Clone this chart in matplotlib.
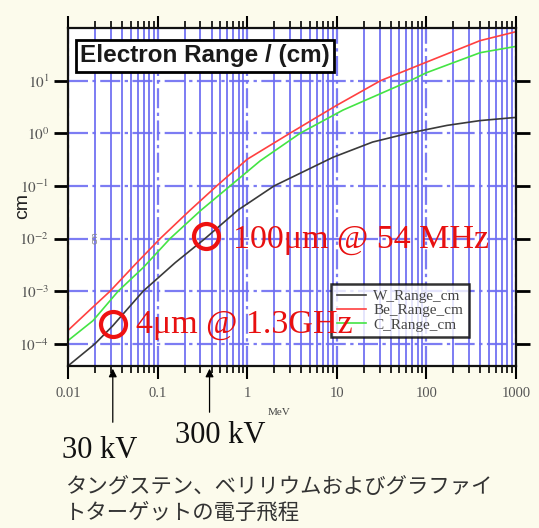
import numpy as np
import matplotlib
matplotlib.use('Agg')
import matplotlib.pyplot as plt
from matplotlib.ticker import LogLocator, FixedLocator, NullFormatter

plt.rcParams['mathtext.fontset'] = 'stix'

# electron range (energy in MeV, range in cm)
w_energy = [0.01, 0.02, 0.0316, 0.069, 0.158, 0.339, 0.794, 2.0, 9.1, 25.1, 63.1, 170, 398, 1000]
w_range = [3.8e-5, 1.0e-4, 2.2e-4, 1.0e-3, 3.5e-3, 1.0e-2, 3.5e-2, 1.0e-1, 0.35, 0.68, 1.0, 1.41, 1.74, 2.0]

be_energy = [0.01, 0.019, 0.0295, 0.056, 0.107, 0.224, 0.457, 1.0, 3.0, 10.0, 30.9, 100, 398, 1000]
be_range = [1.8e-4, 5.0e-4, 1.0e-3, 3.2e-3, 1.0e-2, 3.3e-2, 1.0e-1, 0.32, 1.0, 3.4, 10.0, 22.4, 57.5, 85.0]

c_energy = [0.01, 0.019, 0.0363, 0.069, 0.138, 0.302, 0.646, 1.4, 3.9, 11.7, 66.1, 100, 398, 1000]
c_range = [1.15e-4, 2.75e-4, 1.0e-3, 2.8e-3, 1.0e-2, 3.4e-2, 1.0e-1, 0.3, 1.0, 2.75, 10.0, 14.1, 33.9, 44.7]

x_ticks = [0.01, 0.1, 1, 10, 100, 1000]
x_labels = ['0.01', '0.1', '1', '10', '100', '1000']
y_ticks = [1e-4, 1e-3, 1e-2, 1e-1, 1e0, 1e1]
y_labels = ['$10^{-4}$', '$10^{-3}$', '$10^{-2}$', '$10^{-1}$', '$10^{0}$', '$10^{1}$']

grid_blue = '#6e6ef2'

fig = plt.figure(figsize=(5.39, 5.28), dpi=100)
fig.patch.set_facecolor('#fcfbec')
ax = fig.add_axes([0.1262, 0.307, 0.831, 0.640])
ax.set_facecolor('white')

ax.plot(w_energy, w_range, color='#3a3a3a', lw=1.2, label='W_Range_cm')
ax.plot(be_energy, be_range, color='#ff4040', lw=1.2, label='Be_Range_cm')
ax.plot(c_energy, c_range, color='#44e444', lw=1.2, label='C_Range_cm')

ax.set_xscale('log')
ax.set_yscale('log')
ax.set_xlim(0.01, 1000)
ax.set_ylim(3.8e-5, 100)

ax.set_xticks(x_ticks)
ax.set_xticklabels(x_labels, family='Liberation Serif', fontsize=10.5, color='#555555')
ax.xaxis.set_minor_locator(LogLocator(base=10, subs=np.arange(2, 10)))
ax.xaxis.set_minor_formatter(NullFormatter())
ax.yaxis.set_major_locator(FixedLocator(y_ticks))
ax.set_yticklabels(y_labels, fontsize=11, color='#555555')
ax.yaxis.set_minor_locator(FixedLocator([]))

ax.tick_params(axis='x', which='major', direction='out', length=9, width=1.5, top=True, pad=6)
ax.tick_params(axis='x', which='minor', direction='out', length=5, width=1.2, top=True)
ax.tick_params(axis='y', which='major', direction='out', length=10, width=2, right=True)

ax.grid(True, which='major', axis='both', color=grid_blue, lw=1.6, alpha=0.9,
        linestyle=(0, (9, 2, 1.5, 2)))
ax.grid(True, which='minor', axis='x', color=grid_blue, lw=1.4, alpha=0.9)
ax.set_axisbelow(True)

for s in ax.spines.values():
    s.set_linewidth(1.6)
    s.set_color('#111111')

ax.set_xlabel('MeV', family='Liberation Serif', fontsize=8, color='#444444')
ax.xaxis.set_label_coords(0.471, -0.125)

leg = ax.legend(loc='lower left', bbox_to_anchor=(0.588, 0.085), frameon=True, fancybox=False,
                prop={'family': 'Liberation Serif', 'size': 11}, handlelength=1.9,
                borderpad=0.35, labelspacing=0.05, handletextpad=0.5, borderaxespad=0)
leg.get_frame().set_edgecolor('black')
leg.get_frame().set_linewidth(1.8)
for t in leg.get_texts():
    t.set_color('#444444')

ax.text(0.027, 0.918, 'Electron Range / (cm)', transform=ax.transAxes, family='Liberation Sans',
        fontweight='bold', fontsize=17.5, color='#1a1a1a', va='center', ha='left',
        bbox=dict(boxstyle='square,pad=0.18', fc='white', ec='black', lw=2))

ax.text(0.06, 0.38, 'cm', transform=ax.transAxes, rotation=90, fontsize=6, color='#888888',
        va='center', ha='center')

# highlighted points
ax.plot([0.0316, 0.35], [2.4e-4, 1.1e-2], 'o', ms=18, mfc='none', mec='#ee1111', mew=3, zorder=5)
ax.text(0.057, 2.3e-4, '4μm @ 1.3GHz', family='Liberation Serif', fontsize=24.5,
        color='#e81010', va='center', ha='left', zorder=6)
ax.text(0.70, 9.5e-3, '100μm @ 54 MHz', family='Liberation Serif', fontsize=24.5,
        color='#e81010', va='center', ha='left', zorder=6)

ax.annotate('', xy=(0.0316, 3.8e-5), xycoords='data', xytext=(0.0316, 0.195),
            textcoords=('data', 'figure fraction'),
            arrowprops=dict(arrowstyle='-|>', color='black', lw=0.9, mutation_scale=12))
ax.annotate('', xy=(0.38, 3.8e-5), xycoords='data', xytext=(0.38, 0.214),
            textcoords=('data', 'figure fraction'),
            arrowprops=dict(arrowstyle='-|>', color='black', lw=0.9, mutation_scale=12))

fig.text(0.115, 0.133, '30 kV', family='Liberation Serif', fontsize=22, color='#111111',
         va='baseline', ha='left')
fig.text(0.325, 0.161, '300 kV', family='Liberation Serif', fontsize=22, color='#111111',
         va='baseline', ha='left')

fig.text(0.042, 0.61, 'cm', rotation=90, family='Liberation Sans', fontsize=14,
         color='#222222', va='center', ha='center')

fig.text(0.121, 0.053, 'タングステン、ベリリウムおよびグラファイ\nトターゲットの電子飛程',
         family=['Noto Sans CJK JP', 'DejaVu Sans'], fontsize=15.4, color='#333333',
         va='center', ha='left', linespacing=1.2)

fig.savefig('out.png', dpi=100, facecolor=fig.get_facecolor())
